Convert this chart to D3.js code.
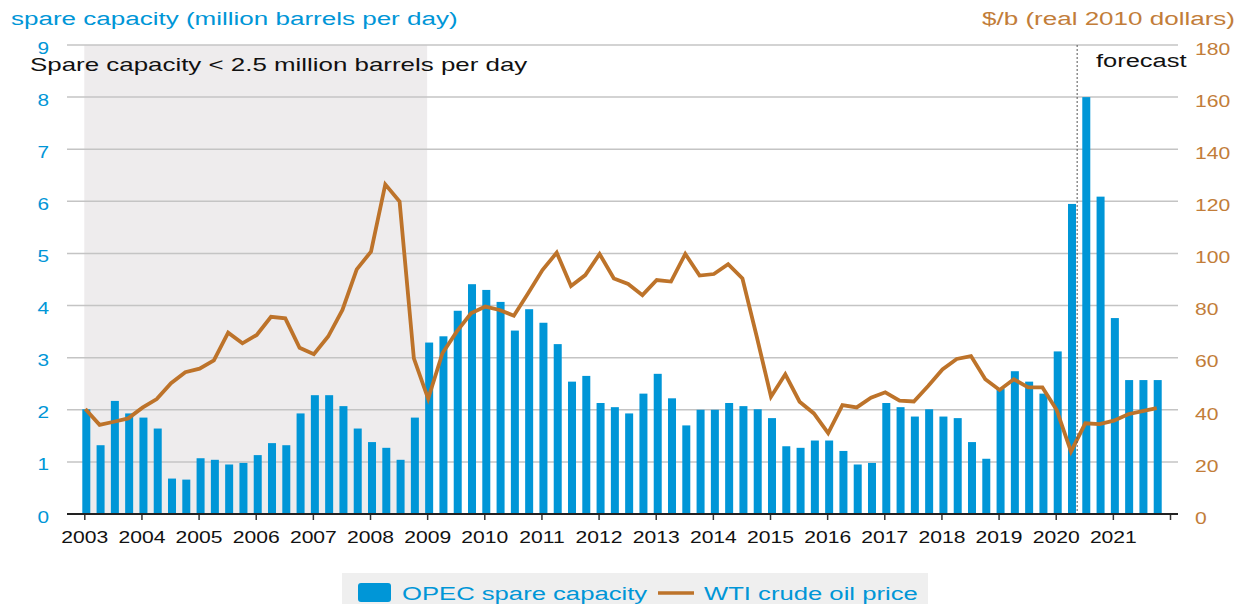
<!DOCTYPE html>
<html>
<head>
<meta charset="utf-8">
<script src="https://cdn.jsdelivr.net/npm/d3@7"></script>
<style>
  html, body { margin: 0; padding: 0; background: #fff; }
  svg { display: block; font-family: "Liberation Sans", Arial, sans-serif; }
</style>
</head>
<body>
<svg id="chart" width="1238" height="604"></svg>
<script>
// ---------------- DATA ----------------
const years = [2003, 2004, 2005, 2006, 2007, 2008, 2009, 2010, 2011, 2012,
               2013, 2014, 2015, 2016, 2017, 2018, 2019, 2020, 2021];
const quarters = ["Q1", "Q2", "Q3", "Q4"];

// OPEC spare capacity, million barrels per day (quarterly, 2003Q1-2021Q4)
const spareCapacity = [
  2.01, 1.32, 2.17, 1.93,   // 2003
  1.85, 1.64, 0.68, 0.66,   // 2004
  1.07, 1.04, 0.95, 0.98,   // 2005
  1.13, 1.36, 1.32, 1.93,   // 2006
  2.28, 2.28, 2.07, 1.64,   // 2007
  1.38, 1.27, 1.04, 1.85,   // 2008
  3.29, 3.41, 3.90, 4.41,   // 2009
  4.30, 4.07, 3.52, 3.93,   // 2010
  3.67, 3.26, 2.54, 2.65,   // 2011
  2.13, 2.05, 1.93, 2.31,   // 2012
  2.69, 2.22, 1.70, 2.00,   // 2013
  2.00, 2.13, 2.07, 2.01,   // 2014
  1.84, 1.30, 1.27, 1.41,   // 2015
  1.41, 1.21, 0.95, 0.98,   // 2016
  2.13, 2.05, 1.87, 2.01,   // 2017
  1.87, 1.84, 1.38, 1.06,   // 2018
  2.41, 2.74, 2.54, 2.31,   // 2019
  3.12, 5.95, 8.00, 6.09,   // 2020
  3.76, 2.57, 2.57, 2.57    // 2021
];

// WTI crude oil price, $/b (real 2010 dollars)
const wtiPrice = [
  40.3, 34.2, 35.4, 36.7,   // 2003
  40.8, 44.1, 50.2, 54.4,   // 2004
  55.8, 59.0, 69.6, 65.5,   // 2005
  68.7, 75.7, 75.1, 63.8,   // 2006
  61.3, 68.1, 78.3, 93.9,   // 2007
  100.7, 126.5, 119.9, 59.7,// 2008
  44.2, 61.7, 70.0, 77.0,   // 2009
  79.6, 78.3, 76.1, 84.7,   // 2010
  93.6, 100.3, 87.5, 91.7,  // 2011
  99.8, 90.4, 88.3, 84.0,   // 2012
  89.8, 89.2, 99.8, 91.5,   // 2013
  92.1, 95.9, 90.4, 68.1,   // 2014
  45.0, 53.6, 43.1, 38.6,   // 2015
  31.0, 41.8, 40.9, 44.6,   // 2016
  46.7, 43.5, 43.2, 49.1,   // 2017
  55.5, 59.5, 60.6, 51.7,   // 2018
  47.6, 51.7, 48.6, 48.6,   // 2019
  39.9, 23.9, 34.8, 34.5,   // 2020
  35.8, 38.3, 39.5, 40.6    // 2021
];

const leftTicks = [0, 1, 2, 3, 4, 5, 6, 7, 8, 9];
const rightTicks = [0, 20, 40, 60, 80, 100, 120, 140, 160, 180];
const yearTicks = [2003, 2004, 2005, 2006, 2007, 2008, 2009, 2010, 2011, 2012,
                   2013, 2014, 2015, 2016, 2017, 2018, 2019, 2020, 2021, 2022];
const shadeStart = 2003, shadeEnd = 2009;   // spare capacity < 2.5 mb/d period
const forecastStart = 2020.375;

const leftTitle = "spare capacity (million barrels per day)";
const rightTitle = "$/b (real 2010 dollars)";
const shadeLabel = "Spare capacity < 2.5 million barrels per day";
const forecastLabel = "forecast";
const legendLabels = ["OPEC spare capacity", "WTI crude oil price"];

// ---------------- STYLE ----------------
const BLUE = "#0096D7";
const BROWN = "#BD732A";
const BROWN_TXT = "#C27D39";
const GRID = "#C4C4C4";
const SHADE = "#EEECED";

const data = spareCapacity.map((v, i) => ({
  t: years[0] + i / 4,
  label: years[Math.floor(i / 4)] + quarters[i % 4],
  spare: v,
  wti: wtiPrice[i]
}));

const svg = d3.select("#chart");

const plotLeft = 67, plotRight = 1178, plotTop = 45, plotBottom = 514;

const x = d3.scaleLinear().domain([2003, 2022]).range([84.3, 1170]);
const yL = d3.scaleLinear().domain([0, 9]).range([plotBottom, plotTop]);
const yR = d3.scaleLinear().domain([0, 180]).range([plotBottom, plotTop]);

const BAR_W = 8, BAR_OFF = 2;

// stretched text helper (reference text is horizontally wide)
function stext(g, px, py, str, size, anchor, fill, sx) {
  return g.append("text")
    .attr("transform", `translate(${px},${py}) scale(${sx},1)`)
    .attr("text-anchor", anchor)
    .style("font-size", size + "px")
    .attr("fill", fill)
    .text(str);
}

// shaded period
svg.append("rect")
  .attr("x", x(shadeStart)).attr("y", yL(9))
  .attr("width", x(shadeEnd) - x(shadeStart))
  .attr("height", yL(0) - yL(9))
  .attr("fill", SHADE);

// gridlines
svg.append("g").selectAll("line")
  .data(leftTicks.filter(d => d > 0))
  .join("line")
  .attr("x1", plotLeft).attr("x2", plotRight)
  .attr("y1", d => yL(d)).attr("y2", d => yL(d))
  .attr("stroke", GRID).attr("stroke-width", 1.5);

// bars
svg.append("g").selectAll("rect")
  .data(data)
  .join("rect")
  .attr("x", d => x(d.t) + BAR_OFF - BAR_W / 2)
  .attr("y", d => yL(d.spare))
  .attr("width", BAR_W)
  .attr("height", d => yL(0) - yL(d.spare))
  .attr("fill", BLUE);

// line
const line = d3.line().x(d => x(d.t) + 1).y(d => yR(d.wti));
svg.append("path")
  .datum(data)
  .attr("d", line)
  .attr("fill", "none")
  .attr("stroke", BROWN)
  .attr("stroke-width", 3.8)
  .attr("stroke-linejoin", "miter")
  .attr("stroke-linecap", "butt");

// forecast divider
svg.append("line")
  .attr("x1", x(forecastStart)).attr("x2", x(forecastStart))
  .attr("y1", plotTop).attr("y2", plotBottom)
  .attr("stroke", "#555").attr("stroke-width", 1)
  .attr("stroke-dasharray", "2,2");

// bottom axis
const xAxis = d3.axisBottom(x)
  .tickValues(yearTicks)
  .tickSize(6)
  .tickPadding(0)
  .tickFormat(d => d < 2022 ? String(d) : "");
const gx = svg.append("g").attr("transform", `translate(0,${plotBottom})`).call(xAxis);
gx.select(".domain").remove();
gx.selectAll(".tick line").attr("stroke", "#333").attr("stroke-width", 1.5);
gx.selectAll(".tick text")
  .attr("y", 29).attr("dy", 0)
  .attr("transform", "scale(1.28,1)")
  .style("font-size", "16.5px")
  .style("font-family", "'Liberation Sans', Arial, sans-serif")
  .attr("fill", "#111");

svg.append("line")
  .attr("x1", plotLeft).attr("x2", plotRight)
  .attr("y1", plotBottom).attr("y2", plotBottom)
  .attr("stroke", "#222").attr("stroke-width", 2);

// left axis
const yAxisL = d3.axisLeft(yL).tickValues(leftTicks).tickSize(0).tickPadding(0)
  .tickFormat(d3.format("d"));
const gl = svg.append("g").attr("transform", "translate(49,0)").call(yAxisL);
gl.select(".domain").remove();
gl.selectAll(".tick text")
  .attr("dy", "0.5em")
  .attr("transform", "scale(1.3,1)")
  .style("font-size", "16px")
  .style("font-family", "'Liberation Sans', Arial, sans-serif")
  .attr("fill", BLUE);

// right axis
const yAxisR = d3.axisRight(yR).tickValues(rightTicks).tickSize(0).tickPadding(0)
  .tickFormat(d3.format("d"));
const gr = svg.append("g").attr("transform", "translate(1195,0)").call(yAxisR);
gr.select(".domain").remove();
gr.selectAll(".tick text")
  .attr("dy", "0.56em")
  .attr("transform", "scale(1.28,1)")
  .style("font-size", "16.5px")
  .style("font-family", "'Liberation Sans', Arial, sans-serif")
  .attr("fill", BROWN_TXT);

// titles and annotations
const labels = svg.append("g");
stext(labels, 11, 25, leftTitle, 19, "start", BLUE, 1.37);
stext(labels, 1235, 25, rightTitle, 19, "end", BROWN_TXT, 1.37);
stext(labels, 30, 71, shadeLabel, 18.5, "start", "#111", 1.4);
stext(labels, 1096, 67, forecastLabel, 19, "start", "#111", 1.34);

// legend
const lg = svg.append("g");
lg.append("rect").attr("x", 342).attr("y", 573).attr("width", 586).attr("height", 40)
  .attr("fill", "#EFEFEF");
lg.append("rect").attr("x", 358).attr("y", 583).attr("width", 33).attr("height", 19)
  .attr("rx", 3).attr("fill", BLUE);
stext(lg, 402, 600, legendLabels[0], 19, "start", BLUE, 1.35);
lg.append("line").attr("x1", 658).attr("x2", 694).attr("y1", 593).attr("y2", 593)
  .attr("stroke", BROWN).attr("stroke-width", 3.5);
stext(lg, 704, 600, legendLabels[1], 19, "start", BLUE, 1.35);
</script>
</body>
</html>
